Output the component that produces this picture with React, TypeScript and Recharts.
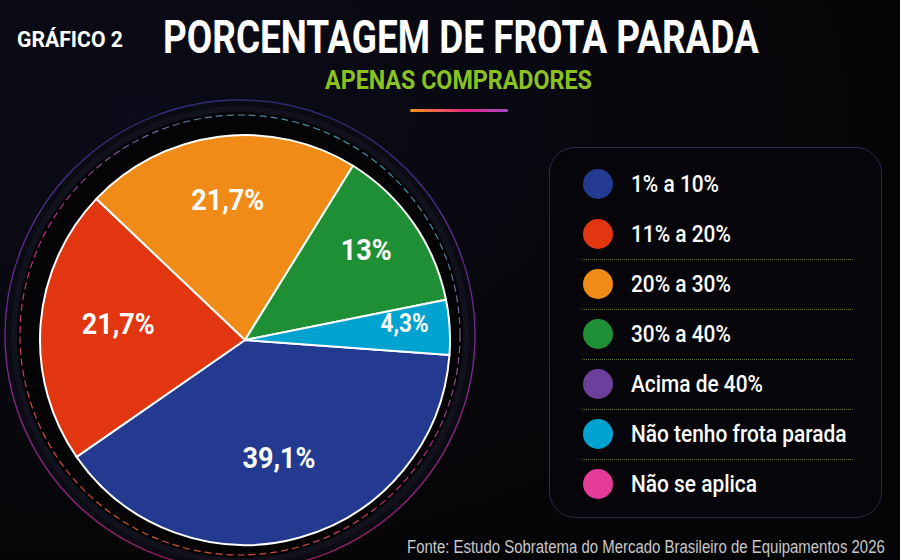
import { useLayoutEffect, useRef, useState } from "react";
import { Cell, Legend, Pie, PieChart } from "recharts";

const categories = [
  "1% a 10%",
  "11% a 20%",
  "20% a 30%",
  "30% a 40%",
  "Acima de 40%",
  "Não tenho frota parada",
  "Não se aplica",
];
const shares = [39.1, 21.7, 21.7, 13, 0, 4.3, 0];
const colors = ["#233a90", "#e1360f", "#f18b18", "#1f8f35", "#6a409c", "#00a2d0", "#e43b97"];

// label placement per slice (fraction of radius, font size)
const LABEL_STYLE: Record<string, { r: number; size: number }> = {
  "1% a 10%": { r: 0.63, size: 30 },
  "11% a 20%": { r: 0.62, size: 30 },
  "20% a 30%": { r: 0.66, size: 30 },
  "30% a 40%": { r: 0.72, size: 30 },
  "Não tenho frota parada": { r: 0.78, size: 25 },
};
const LABEL_NUDGE = -7;

const W = 900;
const H = 560;
const CX = 240;
const CY = 335;
const R = 205;
const RAD = Math.PI / 180;

const pieData = categories
  .map((name, i) => ({ name, value: shares[i], color: colors[i] }))
  .filter((d) => d.value > 0);

const fmt = (v: number) => `${v.toLocaleString("pt-BR")}%`;

// squeezes a text horizontally so it spans exactly `width` px (condensed look)
function FitText({
  x,
  y,
  width,
  children,
  ...rest
}: {
  x: number;
  y: number;
  width: number;
  children: string;
  [k: string]: any;
}) {
  const ref = useRef<SVGTextElement>(null);
  const [sx, setSx] = useState(1);
  useLayoutEffect(() => {
    const w = ref.current?.getComputedTextLength() ?? 0;
    if (w > 0) setSx(width / w);
  }, [width, children]);
  return (
    <text ref={ref} transform={`translate(${x},${y}) scale(${sx},1)`} {...rest}>
      {children}
    </text>
  );
}

function SliceLabel(props: any) {
  const { cx, cy, midAngle, outerRadius, name, value } = props;
  const st = LABEL_STYLE[name] ?? { r: 0.65, size: 28 };
  const r = outerRadius * st.r;
  const x = cx + r * Math.cos(-midAngle * RAD);
  const y = cy + r * Math.sin(-midAngle * RAD) + st.size * 0.36 + LABEL_NUDGE;
  return (
    <text
      transform={`translate(${x},${y}) scale(0.9,1)`}
      textAnchor="middle"
      fill="#fff"
      fontFamily="Roboto, sans-serif"
      fontWeight={700}
      fontSize={st.size}
    >
      {fmt(value)}
    </text>
  );
}

function LegendBox() {
  return (
    <div
      style={{
        position: "relative",
        width: 333,
        height: 371,
        boxSizing: "border-box",
        border: "1.5px solid #2a2948",
        borderRadius: 26,
        background: "#06060a",
      }}
    >
      {categories.map((c, i) => (
        <div key={c}>
          {i >= 2 && (
            <div
              style={{
                position: "absolute",
                left: 32,
                width: 271,
                top: 11 + 50 * i,
                borderTop: "1px dotted #5f7124",
              }}
            />
          )}
          <div
            style={{
              position: "absolute",
              left: 33,
              top: 11 + 50 * i + 10,
              width: 30,
              height: 30,
              borderRadius: 15,
              background: colors[i],
            }}
          />
          <div
            style={{
              position: "absolute",
              left: 81,
              top: 11 + 50 * i,
              height: 50,
              lineHeight: "50px",
              color: "#fff",
              fontFamily: "Roboto, sans-serif",
              fontWeight: 500,
              fontSize: 24,
              whiteSpace: "nowrap",
              transform: "scaleX(0.87)",
              transformOrigin: "left center",
            }}
          >
            {c}
          </div>
        </div>
      ))}
    </div>
  );
}

export default function App() {
  return (
    <div style={{ position: "relative", width: W, height: H, background: "#060609", overflow: "hidden" }}>
      <style>{"body{margin:0;background:#060609}"}</style>
      <svg width={W} height={H} style={{ position: "absolute", left: 0, top: 0 }}>
        <defs>
          <radialGradient id="bg" cx="0.15" cy="0.2" r="0.8">
            <stop offset="0" stopColor="#0c0c1a" />
            <stop offset="1" stopColor="#050507" />
          </radialGradient>
          <linearGradient id="dash" x1="0.8" y1="0" x2="0.2" y2="1">
            <stop offset="0" stopColor="#2aa6a8" />
            <stop offset="0.5" stopColor="#b3278c" />
            <stop offset="1" stopColor="#d45a1f" />
          </linearGradient>
          <linearGradient id="ring" x1="0.5" y1="0" x2="0.5" y2="1">
            <stop offset="0" stopColor="#2c2f78" />
            <stop offset="0.45" stopColor="#7a2a9c" />
            <stop offset="1" stopColor="#a31f66" />
          </linearGradient>
          <linearGradient id="bar" x1="0" y1="0" x2="1" y2="0">
            <stop offset="0" stopColor="#f7931e" />
            <stop offset="0.6" stopColor="#e2238a" />
            <stop offset="1" stopColor="#a44bc0" />
          </linearGradient>
        </defs>
        <rect width={W} height={H} fill="url(#bg)" />
        <circle cx={CX} cy={CY} r={237} fill="#0b0b14" />
        <circle cx={CX} cy={CY} r={235} fill="none" stroke="url(#ring)" strokeWidth={1.3} />
        <circle cx={CX} cy={CY} r={229} fill="#12121e" />
        <circle cx={CX} cy={CY} r={223} fill="#040406" />
        <circle cx={CX} cy={CY} r={220} fill="none" stroke="url(#dash)" strokeWidth={1.2} strokeDasharray="7 4" />

        <FitText x={17} y={47} width={106} fill="#fff" fontFamily="Roboto, sans-serif" fontWeight={700} fontSize={22}>
          GRÁFICO 2
        </FitText>
        <FitText x={163} y={53} width={596} fill="#fff" fontFamily="Roboto, sans-serif" fontWeight={700} fontSize={46}>
          PORCENTAGEM DE FROTA PARADA
        </FitText>
        <FitText x={325} y={89} width={267} fill="#8cc21f" fontFamily="Roboto, sans-serif" fontWeight={700} fontSize={26}>
          APENAS COMPRADORES
        </FitText>
        <rect x={410} y={109} width={98} height={3} rx={1.5} fill="url(#bar)" />
        <FitText x={407} y={553} width={478} fill="#c8c8c8" fontFamily="'Liberation Sans', Arial, sans-serif" fontSize={18.5}>
          Fonte: Estudo Sobratema do Mercado Brasileiro de Equipamentos 2026
        </FitText>
      </svg>
      <PieChart width={W} height={H} style={{ position: "absolute", left: 0, top: 0 }}>
        <Pie
          data={pieData}
          dataKey="value"
          nameKey="name"
          cx={CX}
          cy={CY}
          outerRadius={R}
          startAngle={-4.2}
          endAngle={-364.2}
          stroke="#ffffff"
          strokeWidth={2}
          label={SliceLabel}
          labelLine={false}
          isAnimationActive={false}
        >
          {pieData.map((d) => (
            <Cell key={d.name} fill={d.color} />
          ))}
        </Pie>
        <Legend
          layout="vertical"
          align="right"
          verticalAlign="top"
          wrapperStyle={{ left: 549, top: 147, width: 333, height: 371 }}
          content={() => <LegendBox />}
        />
      </PieChart>
    </div>
  );
}
